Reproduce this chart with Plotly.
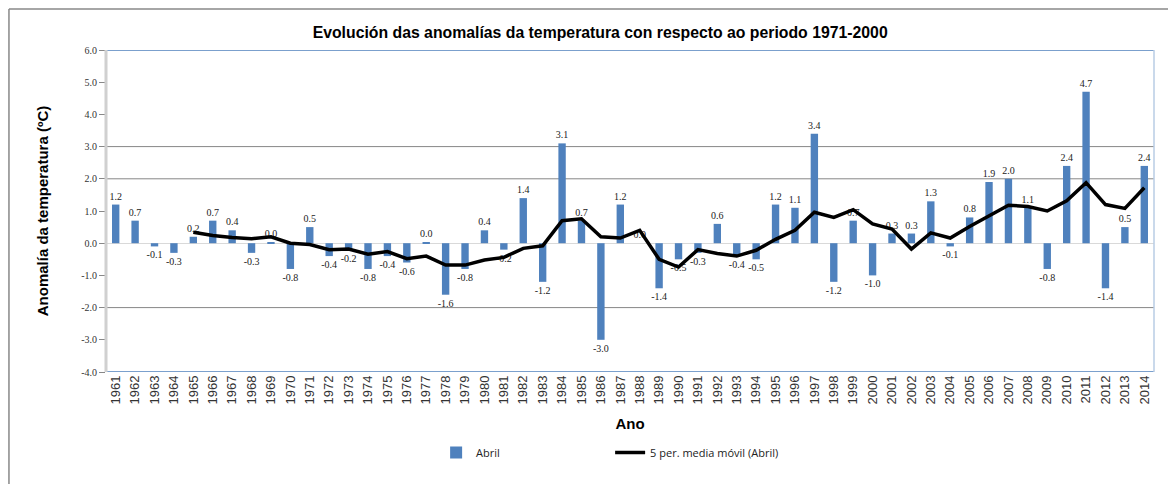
import plotly.graph_objects as go

years = [str(y) for y in range(1961, 2015)]
anomalies = [1.2, 0.7, -0.1, -0.3, 0.2, 0.7, 0.4, -0.3, 0.03, -0.8,
             0.5, -0.4, -0.2, -0.8, -0.4, -0.6, 0.03, -1.6, -0.8, 0.4,
             -0.2, 1.4, -1.2, 3.1, 0.7, -3.0, 1.2, 0.0, -1.4, -0.5,
             -0.3, 0.6, -0.4, -0.5, 1.2, 1.1, 3.4, -1.2, 0.7, -1.0,
             0.3, 0.3, 1.3, -0.1, 0.8, 1.9, 2.0, 1.1, -0.8, 2.4,
             4.7, -1.4, 0.5, 2.4]
ma_years = [str(y) for y in range(1965, 2015)]
moving_avg = [0.34, 0.24, 0.18, 0.14, 0.20, 0.00, -0.04, -0.20, -0.18, -0.34,
              -0.26, -0.48, -0.40, -0.68, -0.68, -0.52, -0.44, -0.16, -0.08, 0.70,
              0.76, 0.20, 0.16, 0.40, -0.50, -0.74, -0.20, -0.32, -0.40, -0.22,
              0.12, 0.40, 0.96, 0.80, 1.04, 0.60, 0.44, -0.18, 0.32, 0.16,
              0.52, 0.84, 1.18, 1.14, 1.00, 1.32, 1.88, 1.20, 1.08, 1.72]
ytick_vals = [6, 5, 4, 3, 2, 1, 0, -1, -2, -3, -4]
grid_vals = [3, 2, -2]

fig = go.Figure()
fig.add_trace(go.Bar(
    x=years, y=anomalies, name="Abril",
    marker=dict(color="#4f81bd", line=dict(width=0)),
    text=[f"{v:.1f}" for v in anomalies], textposition="outside",
    constraintext="none", cliponaxis=False,
    outsidetextfont=dict(family="Liberation Serif", size=10, color="#222222"),
    textfont=dict(family="Liberation Serif", size=10, color="#222222"),
))
fig.add_trace(go.Scatter(
    x=ma_years, y=moving_avg, name="5 per. media móvil (Abril)",
    mode="lines", line=dict(color="black", width=3.5),
))

shapes = []
for g in grid_vals:
    shapes.append(dict(type="line", xref="paper", x0=0, x1=1, yref="y", y0=g, y1=g,
                       line=dict(color="#868686", width=1), layer="below"))
# plot area borders
shapes.append(dict(type="line", xref="paper", x0=0, x1=1, yref="y", y0=6, y1=6,
                   line=dict(color="#4f81bd", width=1.5)))
shapes.append(dict(type="line", xref="paper", x0=0, x1=1, yref="y", y0=-4, y1=-4,
                   line=dict(color="#4f81bd", width=1.5)))
shapes.append(dict(type="line", xref="paper", x0=1, x1=1, yref="y", y0=-4, y1=6,
                   line=dict(color="#b9cde5", width=1.5)))
shapes.append(dict(type="line", xref="paper", x0=0, x1=0, yref="y", y0=-4, y1=6,
                   line=dict(color="#d0d0d0", width=3)))
# outer chart frame
shapes.append(dict(type="line", xref="paper", x0=-0.0926, x1=1.03, yref="paper", y0=1.127, y1=1.127,
                   line=dict(color="#888888", width=1.5)))
shapes.append(dict(type="line", xref="paper", x0=-0.0926, x1=-0.0926, yref="paper", y0=1.127, y1=-0.4,
                   line=dict(color="#888888", width=1.5)))

fig.update_layout(
    width=1168, height=476,
    margin=dict(l=98, r=22, t=42, b=112, autoexpand=False),
    paper_bgcolor="white", plot_bgcolor="white",
    title=dict(text="<b>Evolución das anomalías da temperatura con respecto ao periodo 1971-2000</b>",
               x=0.507, xanchor="center", y=1 - 24 / 476, yanchor="middle",
               font=dict(family="Liberation Sans", size=15.8, color="black")),
    bargap=0.62,
    showlegend=True,
    legend=dict(orientation="h", x=0.315, xanchor="left", y=-0.25, yanchor="middle",
                entrywidth=129, entrywidthmode="pixels",
                font=dict(family="Open Sans", size=11, color="#222222")),
    shapes=shapes,
)
fig.update_xaxes(
    type="category", tickangle=-90, showgrid=False, showline=False, automargin=False,
    ticks="", tickfont=dict(family="Liberation Sans", size=13, color="#333333"),
    title=dict(text="<b>Ano</b>", font=dict(family="Liberation Sans", size=15, color="black"),
               standoff=14),
)
fig.update_yaxes(
    range=[-4, 6], tickvals=ytick_vals, ticktext=[f"{v:.1f}" for v in ytick_vals],
    showgrid=False, zeroline=True, zerolinecolor="#d9d9d9", zerolinewidth=1,
    ticks="outside", ticklen=6, tickcolor="#888888", automargin=False,
    tickfont=dict(family="Liberation Serif", size=10, color="#333333"),
    title=dict(text="<b>Anomalía da temperatura (ºC)</b>",
               font=dict(family="Liberation Sans", size=15, color="black"), standoff=28),
)

fig.write_html("out.html")
